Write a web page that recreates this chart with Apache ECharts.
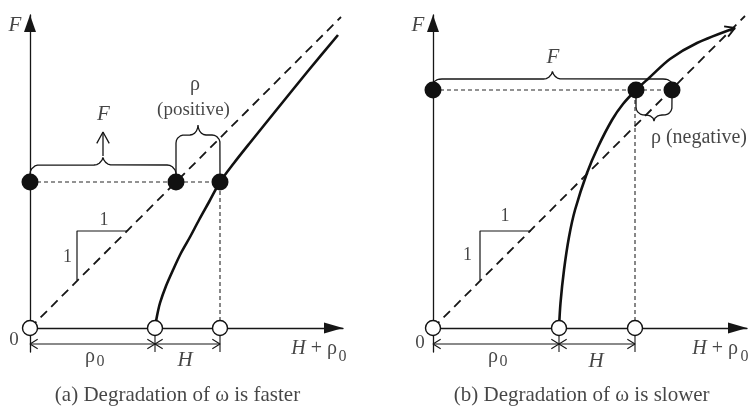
<!DOCTYPE html>
<html>
<head>
<meta charset="utf-8">
<script src="https://cdn.jsdelivr.net/npm/echarts@6/dist/echarts.min.js"></script>
<style>
  html, body { margin: 0; padding: 0; background: #fff; }
  #chart { width: 751px; height: 406px; }
</style>
</head>
<body>
<div id="chart"></div>
<script>
// Strength F against H + rho0 for two degradation cases.
// Panel (a): degradation of omega is faster; panel (b): slower.
const captions = ['(a) Degradation of ω is faster', '(b) Degradation of ω is slower'];
const rho0 = [125, 126];          // where the response curve leaves the H + rho0 axis
const hEnd = [190, 202];          // H + rho0 at the force level
const forceLevel = [146, 238];    // F
const rhoPoint = [146, 239];      // point on the 1:1 line at level F
const oneToOneEnd = [311, 312];   // extent of the dashed 1:1 line
const axisMaxX = [313, 314];
const axisMaxY = 313;
const axisMinY = -24;

// response curves (H + rho0, F)
const curveA = [[125, 0], [127, 12], [130, 25], [136, 42], [143, 58], [151, 75], [160, 91],
  [169, 108], [179, 126], [190, 146], [204, 165], [219, 184], [248, 220], [278, 257], [308, 293]];
const curveB = [[126, 0], [127.5, 25], [131, 58], [136, 91], [142, 118], [154, 155], [165, 181],
  [179, 208], [190, 224], [203, 238], [216, 250], [237, 269], [264, 285], [302, 300]];

// unit slope triangles
const slopeA = [[47, 48], [47, 97], [97, 97]];
const slopeB = [[47, 48], [47, 97], [98, 97]];

const INK = '#161616';
const SERIF = '"Liberation Serif", "DejaVu Serif", serif';

function line(i, pts, extra) {
  return Object.assign({
    type: 'line', xAxisIndex: i, yAxisIndex: i, data: pts,
    showSymbol: false, symbol: 'none', silent: true, clip: false,
    lineStyle: { color: INK, width: 1.3 }, z: 2
  }, extra || {});
}

// curly brace between x1 and x2: ends start at yEnd, run along yBase, cusp reaches yTip
function brace(x1, x2, yEnd, yBase, yTip, rEnd, rTip) {
  const s = Math.sign(yBase - yEnd) || 1;
  const e = Math.min(rEnd, Math.abs(yBase - yEnd));
  const t = Math.abs(yTip - yBase);
  const xm = (x1 + x2) / 2;
  const half = [[x1, yEnd]];
  const N = 10;
  for (let k = 0; k <= N; k++) {
    const a = k / N * Math.PI / 2;
    half.push([x1 + rEnd - rEnd * Math.cos(a), yBase - s * e + s * e * Math.sin(a)]);
  }
  for (let k = 0; k <= N; k++) {
    const a = k / N * Math.PI / 2;
    half.push([xm - rTip + rTip * Math.sin(a), yBase + s * t - s * t * Math.cos(a)]);
  }
  const other = half.slice().reverse().map(p => [2 * xm - p[0], p[1]]);
  return half.concat(other.slice(1));
}

// open arrowhead at tip, pointing along (dx, dy)
function openHead(tip, dx, dy, len, ang) {
  const n = Math.hypot(dx, dy);
  const ux = dx / n, uy = dy / n;
  const w = s => {
    const c = Math.cos(s * ang), sn = Math.sin(s * ang);
    const rx = ux * c - uy * sn, ry = ux * sn + uy * c;
    return [tip[0] - len * rx, tip[1] - len * ry];
  };
  return [w(1), tip, w(-1)];
}

function dimension(i, x1, x2, y) {
  return [
    line(i, [[x1, y], [x2, y]], { lineStyle: { color: INK, width: 1.1 } }),
    line(i, openHead([x1, y], -1, 0, 9, 0.55), { lineStyle: { color: INK, width: 1.1 } }),
    line(i, openHead([x2, y], 1, 0, 9, 0.55), { lineStyle: { color: INK, width: 1.1 } })
  ];
}

// text items: [text, x, y, fontSize, italic, align]
function labelSeries(i, items) {
  return {
    type: 'scatter', xAxisIndex: i, yAxisIndex: i, symbolSize: 0, silent: true, clip: false, z: 10,
    data: items.map(([text, x, y, size, italic, align]) => ({
      value: [x, y],
      label: {
        show: true, position: [0, 0], align: align || 'center', verticalAlign: 'middle',
        formatter: () => text, color: INK, fontFamily: SERIF, fontSize: size,
        fontStyle: italic ? 'italic' : 'normal',
        rich: { i: { fontStyle: 'italic', fontFamily: SERIF, fontSize: size, color: INK } }
      }
    }))
  };
}

function panel(i, curve, slope, braces, extra, labels) {
  const F = forceLevel[i];
  const thin = { lineStyle: { color: '#262626', width: 1.1, type: [4, 3] } };
  const s = [
    line(i, [[0, 0], [oneToOneEnd[i], oneToOneEnd[i]]], { lineStyle: { color: INK, width: 1.8, type: [9, 6] } }),
    line(i, slope, { lineStyle: { color: INK, width: 1.2 } }),
    line(i, [[0, F], [Math.max(hEnd[i], rhoPoint[i]), F]], thin),
    line(i, [[hEnd[i], 0], [hEnd[i], F]], thin),
    line(i, curve, { smooth: 0.3, lineStyle: { color: '#111', width: 2.6 }, z: 3 })
  ];
  braces.forEach(b => s.push(line(i, b, { lineStyle: { color: INK, width: 1.3 } })));
  extra.forEach(e => s.push(e));
  // dimension lines below the axis
  s.push(...dimension(i, 0, rho0[i], -16));
  s.push(...dimension(i, rho0[i], hEnd[i], -16));
  s.push(line(i, [[rho0[i], -7], [rho0[i], -24]], { lineStyle: { color: INK, width: 1.1 } }));
  s.push(line(i, [[hEnd[i], -7], [hEnd[i], -24]], { lineStyle: { color: INK, width: 1.1 } }));
  // open circles on the axis
  s.push({
    type: 'scatter', xAxisIndex: i, yAxisIndex: i, silent: true, z: 6, symbolSize: 15,
    itemStyle: { color: '#fff', borderColor: '#111', borderWidth: 1.4, opacity: 1 },
    data: [[0, 0], [rho0[i], 0], [hEnd[i], 0]]
  });
  // solid dots at level F
  s.push({
    type: 'scatter', xAxisIndex: i, yAxisIndex: i, silent: true, z: 6, symbolSize: 17,
    itemStyle: { color: '#111', opacity: 1 },
    data: i === 0 ? [[0, F], [rhoPoint[i], F], [hEnd[i], F]]
                  : [[0, F], [hEnd[i] + 1, F], [rhoPoint[i], F]]
  });
  s.push(labelSeries(i, labels));
  return s;
}

// panel (a) annotations
const bracesA = [brace(0, rhoPoint[0], 154, 163, 172, 9, 9), brace(rhoPoint[0], hEnd[0], 152, 193, 203, 8, 8)];
const xmA = rhoPoint[0] / 2;
const extraA = [
  line(0, [[xmA, 172], [xmA, 196]], { lineStyle: { color: INK, width: 1.3 } }),
  line(0, openHead([xmA, 196], 0, 1, 13, 0.5), { lineStyle: { color: INK, width: 1.3 } })
];
const labelsA = [
  ['F', -15, 303, 21, true],
  ['0', -16, -12, 19, false],
  ['{i|H} + ρ', 307, -21, 20, false, 'right'],
  ['0', 312.5, -29, 16, false],
  ['ρ', 60, -28.5, 20, false],
  ['0', 70.5, -34, 16, false],
  ['H', 155, -32, 21, true],
  ['F', 73.5, 214, 21, true],
  ['ρ', 165, 243, 20, false],
  ['(positive)', 163.5, 218, 19, false],
  ['1', 74, 107.5, 18, false],
  ['1', 37.5, 70.5, 18, false],
  [captions[0], 147.5, -67, 21, false]
];

// panel (b) annotations
const lastB = curveB[curveB.length - 1], prevB = curveB[curveB.length - 2];
const bracesB = [brace(0, rhoPoint[1], 244, 249, 258, 9, 9), brace(hEnd[1] + 1, rhoPoint[1], 232, 213, 207, 8, 8)];
const extraB = [
  line(1, openHead(lastB, lastB[0] - prevB[0], lastB[1] - prevB[1], 11, 0.52), { lineStyle: { color: '#111', width: 1.8 } })
];
const labelsB = [
  ['F', -15, 303, 21, true],
  ['0', -13, -15, 19, false],
  ['{i|H} + ρ', 305, -21, 20, false, 'right'],
  ['0', 311.5, -29, 16, false],
  ['ρ', 60, -28.5, 20, false],
  ['0', 70.5, -34, 16, false],
  ['H', 163, -33, 21, true],
  ['F', 120, 271, 21, true],
  ['ρ (negative)', 266, 190.5, 20, false],
  ['1', 72, 112, 18, false],
  ['1', 34.5, 73, 18, false],
  [captions[1], 148.7, -67, 21, false]
];

function xAxisFor(i) {
  return {
    gridIndex: i, type: 'value', min: 0, max: axisMaxX[i],
    axisLine: { onZero: true, lineStyle: { color: INK, width: 1.3 },
      symbol: ['none', 'triangle'], symbolSize: [11, 19], symbolOffset: [0, -9.5] },
    axisTick: { show: false }, axisLabel: { show: false }, splitLine: { show: false }
  };
}
function yAxisFor(i) {
  return {
    gridIndex: i, type: 'value', min: axisMinY, max: axisMaxY,
    axisLine: { onZero: false, lineStyle: { color: INK, width: 1.3 },
      symbol: ['none', 'triangle'], symbolSize: [12, 17], symbolOffset: [0, -8.5] },
    axisTick: { show: false }, axisLabel: { show: false }, splitLine: { show: false }
  };
}

const chart = echarts.init(document.getElementById('chart'));
chart.setOption({
  animation: false,
  backgroundColor: '#fff',
  grid: [
    { left: 30, top: 15, width: 313, height: 337 },
    { left: 433, top: 15, width: 314, height: 337 }
  ],
  xAxis: [xAxisFor(0), xAxisFor(1)],
  yAxis: [yAxisFor(0), yAxisFor(1)],
  series: [
    ...panel(0, curveA, slopeA, bracesA, extraA, labelsA),
    ...panel(1, curveB, slopeB, bracesB, extraB, labelsB)
  ]
});
</script>
</body>
</html>
